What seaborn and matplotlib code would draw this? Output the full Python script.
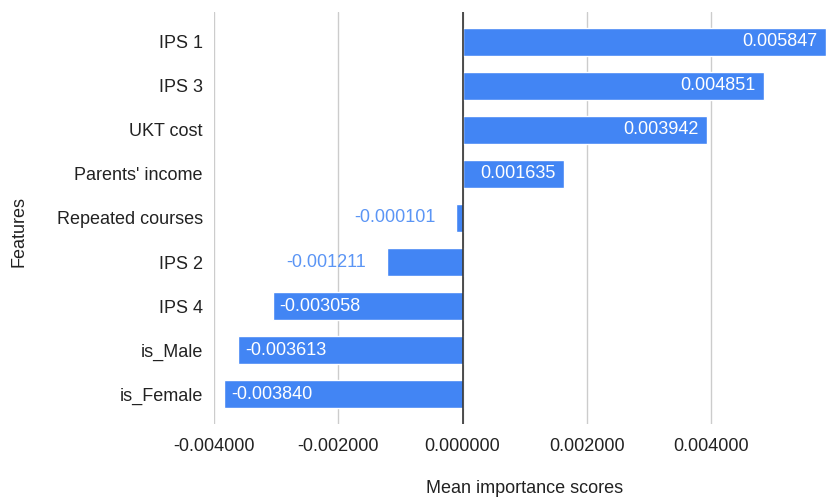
import matplotlib
matplotlib.use("Agg")
import matplotlib.pyplot as plt
import seaborn as sns
import pandas as pd

features = ["IPS 1", "IPS 3", "UKT cost", "Parents' income", "Repeated courses",
            "IPS 2", "IPS 4", "is_Male", "is_Female"]
scores = [0.005847, 0.004851, 0.003942, 0.001635, -0.000101,
          -0.001211, -0.003058, -0.003613, -0.003840]
x_ticks = [-0.004, -0.002, 0.0, 0.002, 0.004]

df = pd.DataFrame({"Features": features, "Mean importance scores": scores})

sns.set_theme(style="white")
plt.rcParams["font.family"] = ["Liberation Sans", "DejaVu Sans"]

BAR = "#4285F4"
TXT = "#222222"
FS = 13
fig = plt.figure(figsize=(8.26, 4.97), dpi=100)
ax = fig.add_axes([214 / 826, 1 - 424 / 497, 612 / 826, 412 / 497])

sns.barplot(data=df, x="Mean importance scores", y="Features", orient="h",
            color=BAR, saturation=1, width=0.64, ax=ax, zorder=3)

ax.set_xlim(-0.004, 0.00585)
ax.set_ylim(8.68, -0.68)
ax.set_xticks(x_ticks)
ax.set_xticklabels([f"{t:.6f}" for t in x_ticks])
ax.grid(axis="x", color="#cccccc", linewidth=1, zorder=0)
ax.axvline(0, color="#333333", linewidth=1.2, zorder=4)
for s in ax.spines.values():
    s.set_visible(False)
ax.tick_params(axis="both", length=0, labelsize=FS, colors=TXT)
ax.tick_params(axis="x", pad=10)
ax.tick_params(axis="y", pad=8)

ax.set_xlabel("Mean importance scores", fontsize=FS, color=TXT)
ax.set_ylabel("Features", fontsize=FS, color=TXT)
ax.xaxis.set_label_coords(0.508, -0.135)
ax.yaxis.set_label_coords(-0.305, 0.468)

# value labels: inside the bar end when it fits, otherwise outside in bar colour
inside_min = 0.0013
for i, v in enumerate(scores):
    txt = f"{v:.6f}"
    if abs(v) >= inside_min:
        if v > 0:
            ax.annotate(txt, (v, i), xytext=(-6, 0), textcoords="offset points",
                        ha="right", va="center", color="white", fontsize=FS, zorder=5)
        else:
            ax.annotate(txt, (v, i), xytext=(5, 0), textcoords="offset points",
                        ha="left", va="center", color="white", fontsize=FS, zorder=5)
    else:
        ax.annotate(txt, (v, i), xytext=(-15, 0), textcoords="offset points",
                    ha="right", va="center", color="#5b95f5", fontsize=FS, zorder=5)

fig.savefig("out.png", dpi=100)
